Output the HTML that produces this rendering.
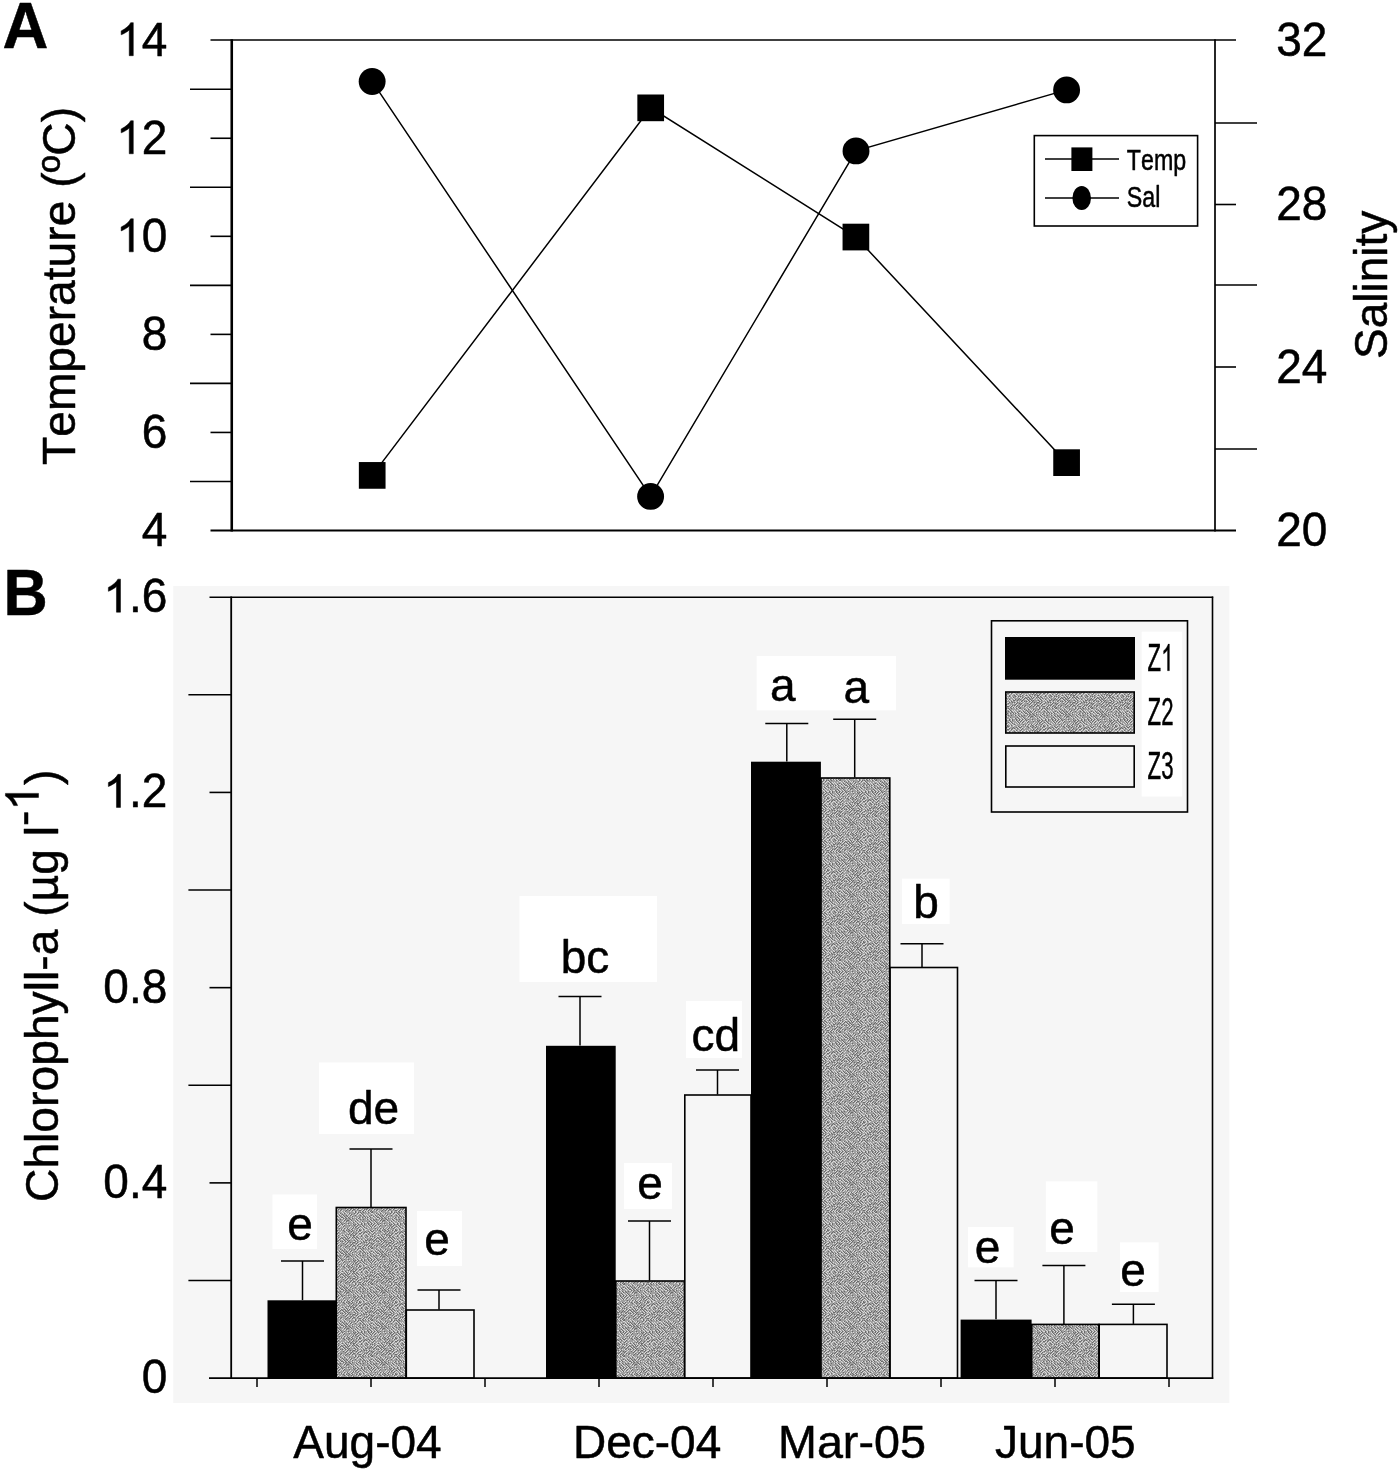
<!DOCTYPE html>
<html><head><meta charset="utf-8"><title>Figure</title>
<style>html,body{margin:0;padding:0;background:#fff;}svg{display:block;filter:grayscale(1);}text{font-family:"Liberation Sans",sans-serif;fill:#000;font-kerning:none;stroke:#000;stroke-width:0.5px;stroke-linejoin:round;}.g1{fill:#000;stroke:#000;stroke-width:22;stroke-linejoin:round;}</style>
</head><body>
<svg width="1400" height="1473" viewBox="0 0 1400 1473">
<defs><pattern id="dz" width="36" height="36" patternUnits="userSpaceOnUse">
<rect width="36" height="36" fill="#a0a0a0"/>
<path fill="#dadada" d="M3 0h1v1h-1zM7 0h1v1h-1zM12 0h1v1h-1zM15 0h1v1h-1zM20 0h1v1h-1zM23 0h1v1h-1zM25 0h1v1h-1zM28 0h1v1h-1zM33 0h1v1h-1zM1 1h1v1h-1zM8 1h1v1h-1zM11 1h1v1h-1zM14 1h1v1h-1zM17 1h1v1h-1zM19 1h1v1h-1zM32 1h1v1h-1zM2 2h1v1h-1zM5 2h1v1h-1zM9 2h1v1h-1zM13 2h1v1h-1zM16 2h1v1h-1zM18 2h1v1h-1zM26 2h1v1h-1zM34 2h1v1h-1zM0 3h1v1h-1zM3 3h1v1h-1zM7 3h1v1h-1zM10 3h1v1h-1zM12 3h1v1h-1zM15 3h1v1h-1zM20 3h1v1h-1zM25 3h1v1h-1zM28 3h1v1h-1zM30 3h1v1h-1zM33 3h1v1h-1zM1 4h1v1h-1zM4 4h1v1h-1zM8 4h1v1h-1zM19 4h1v1h-1zM22 4h1v1h-1zM24 4h1v1h-1zM27 4h1v1h-1zM35 4h1v1h-1zM2 5h1v1h-1zM5 5h1v1h-1zM6 5h1v1h-1zM13 5h1v1h-1zM16 5h1v1h-1zM18 5h1v1h-1zM21 5h1v1h-1zM26 5h1v1h-1zM29 5h1v1h-1zM34 5h1v1h-1zM2 6h1v1h-1zM5 6h1v1h-1zM9 6h1v1h-1zM12 6h1v1h-1zM21 6h1v1h-1zM27 6h1v1h-1zM31 6h1v1h-1zM34 6h1v1h-1zM1 7h1v1h-1zM10 7h1v1h-1zM14 7h1v1h-1zM17 7h1v1h-1zM22 7h1v1h-1zM33 7h1v1h-1zM0 8h1v1h-1zM8 8h1v1h-1zM11 8h1v1h-1zM13 8h1v1h-1zM16 8h1v1h-1zM23 8h1v1h-1zM28 8h1v1h-1zM35 8h1v1h-1zM2 9h1v1h-1zM5 9h1v1h-1zM6 9h1v1h-1zM12 9h1v1h-1zM21 9h1v1h-1zM24 9h1v1h-1zM27 9h1v1h-1zM34 9h1v1h-1zM1 10h1v1h-1zM4 10h1v1h-1zM7 10h1v1h-1zM10 10h1v1h-1zM14 10h1v1h-1zM17 10h1v1h-1zM19 10h1v1h-1zM30 10h1v1h-1zM33 10h1v1h-1zM0 11h1v1h-1zM3 11h1v1h-1zM8 11h1v1h-1zM13 11h1v1h-1zM16 11h1v1h-1zM20 11h1v1h-1zM23 11h1v1h-1zM25 11h1v1h-1zM32 11h1v1h-1zM35 11h1v1h-1zM3 12h1v1h-1zM9 12h1v1h-1zM17 12h1v1h-1zM18 12h1v1h-1zM21 12h1v1h-1zM25 12h1v1h-1zM28 12h1v1h-1zM31 12h1v1h-1zM34 12h1v1h-1zM1 13h1v1h-1zM4 13h1v1h-1zM8 13h1v1h-1zM11 13h1v1h-1zM13 13h1v1h-1zM16 13h1v1h-1zM22 13h1v1h-1zM24 13h1v1h-1zM27 13h1v1h-1zM35 13h1v1h-1zM5 14h1v1h-1zM12 14h1v1h-1zM15 14h1v1h-1zM20 14h1v1h-1zM26 14h1v1h-1zM30 14h1v1h-1zM33 14h1v1h-1zM0 15h1v1h-1zM3 15h1v1h-1zM6 15h1v1h-1zM14 15h1v1h-1zM17 15h1v1h-1zM18 15h1v1h-1zM25 15h1v1h-1zM28 15h1v1h-1zM31 15h1v1h-1zM34 15h1v1h-1zM1 16h1v1h-1zM4 16h1v1h-1zM19 16h1v1h-1zM22 16h1v1h-1zM32 16h1v1h-1zM35 16h1v1h-1zM2 17h1v1h-1zM7 17h1v1h-1zM10 17h1v1h-1zM12 17h1v1h-1zM15 17h1v1h-1zM20 17h1v1h-1zM23 17h1v1h-1zM29 17h1v1h-1zM30 17h1v1h-1zM0 18h1v1h-1zM8 18h1v1h-1zM13 18h1v1h-1zM16 18h1v1h-1zM19 18h1v1h-1zM22 18h1v1h-1zM32 18h1v1h-1zM35 18h1v1h-1zM5 19h1v1h-1zM7 19h1v1h-1zM15 19h1v1h-1zM21 19h1v1h-1zM24 19h1v1h-1zM27 19h1v1h-1zM34 19h1v1h-1zM1 20h1v1h-1zM9 20h1v1h-1zM14 20h1v1h-1zM23 20h1v1h-1zM30 20h1v1h-1zM33 20h1v1h-1zM0 21h1v1h-1zM3 21h1v1h-1zM8 21h1v1h-1zM13 21h1v1h-1zM22 21h1v1h-1zM25 21h1v1h-1zM28 21h1v1h-1zM32 21h1v1h-1zM35 21h1v1h-1zM2 22h1v1h-1zM5 22h1v1h-1zM7 22h1v1h-1zM12 22h1v1h-1zM15 22h1v1h-1zM18 22h1v1h-1zM27 22h1v1h-1zM1 23h1v1h-1zM4 23h1v1h-1zM6 23h1v1h-1zM9 23h1v1h-1zM17 23h1v1h-1zM20 23h1v1h-1zM26 23h1v1h-1zM29 23h1v1h-1zM30 23h1v1h-1zM33 23h1v1h-1zM7 24h1v1h-1zM10 24h1v1h-1zM18 24h1v1h-1zM21 24h1v1h-1zM30 24h1v1h-1zM33 24h1v1h-1zM0 25h1v1h-1zM11 25h1v1h-1zM12 25h1v1h-1zM15 25h1v1h-1zM19 25h1v1h-1zM22 25h1v1h-1zM24 25h1v1h-1zM32 25h1v1h-1zM35 25h1v1h-1zM1 26h1v1h-1zM4 26h1v1h-1zM6 26h1v1h-1zM9 26h1v1h-1zM13 26h1v1h-1zM16 26h1v1h-1zM23 26h1v1h-1zM26 26h1v1h-1zM31 26h1v1h-1zM34 26h1v1h-1zM2 27h1v1h-1zM5 27h1v1h-1zM7 27h1v1h-1zM14 27h1v1h-1zM18 27h1v1h-1zM25 27h1v1h-1zM28 27h1v1h-1zM33 27h1v1h-1zM8 28h1v1h-1zM11 28h1v1h-1zM12 28h1v1h-1zM15 28h1v1h-1zM19 28h1v1h-1zM24 28h1v1h-1zM27 28h1v1h-1zM1 29h1v1h-1zM4 29h1v1h-1zM6 29h1v1h-1zM9 29h1v1h-1zM13 29h1v1h-1zM16 29h1v1h-1zM20 29h1v1h-1zM23 29h1v1h-1zM29 29h1v1h-1zM31 29h1v1h-1zM34 29h1v1h-1zM1 30h1v1h-1zM8 30h1v1h-1zM14 30h1v1h-1zM17 30h1v1h-1zM18 30h1v1h-1zM27 30h1v1h-1zM33 30h1v1h-1zM6 31h1v1h-1zM9 31h1v1h-1zM12 31h1v1h-1zM20 31h1v1h-1zM31 31h1v1h-1zM34 31h1v1h-1zM10 32h1v1h-1zM19 32h1v1h-1zM26 32h1v1h-1zM32 32h1v1h-1zM35 32h1v1h-1zM1 33h1v1h-1zM11 33h1v1h-1zM14 33h1v1h-1zM18 33h1v1h-1zM21 33h1v1h-1zM27 33h1v1h-1zM30 33h1v1h-1zM33 33h1v1h-1zM2 34h1v1h-1zM5 34h1v1h-1zM6 34h1v1h-1zM9 34h1v1h-1zM12 34h1v1h-1zM15 34h1v1h-1zM20 34h1v1h-1zM23 34h1v1h-1zM28 34h1v1h-1zM31 34h1v1h-1zM34 34h1v1h-1zM0 35h1v1h-1zM3 35h1v1h-1zM10 35h1v1h-1zM13 35h1v1h-1zM16 35h1v1h-1zM32 35h1v1h-1zM35 35h1v1h-1z"/>
<path fill="#6a6a6a" d="M1 0h1v1h-1zM4 0h1v1h-1zM8 0h1v1h-1zM11 0h1v1h-1zM13 0h1v1h-1zM18 0h1v1h-1zM29 0h1v1h-1zM31 0h1v1h-1zM34 0h1v1h-1zM2 1h1v1h-1zM9 1h1v1h-1zM12 1h1v1h-1zM15 1h1v1h-1zM20 1h1v1h-1zM25 1h1v1h-1zM30 1h1v1h-1zM33 1h1v1h-1zM0 2h1v1h-1zM3 2h1v1h-1zM10 2h1v1h-1zM14 2h1v1h-1zM19 2h1v1h-1zM32 2h1v1h-1zM4 3h1v1h-1zM11 3h1v1h-1zM29 3h1v1h-1zM31 3h1v1h-1zM34 3h1v1h-1zM6 4h1v1h-1zM15 4h1v1h-1zM20 4h1v1h-1zM23 4h1v1h-1zM28 4h1v1h-1zM33 4h1v1h-1zM3 5h1v1h-1zM17 5h1v1h-1zM24 5h1v1h-1zM27 5h1v1h-1zM35 5h1v1h-1zM0 6h1v1h-1zM10 6h1v1h-1zM13 6h1v1h-1zM19 6h1v1h-1zM22 6h1v1h-1zM25 6h1v1h-1zM28 6h1v1h-1zM32 6h1v1h-1zM35 6h1v1h-1zM5 7h1v1h-1zM8 7h1v1h-1zM11 7h1v1h-1zM12 7h1v1h-1zM20 7h1v1h-1zM24 7h1v1h-1zM27 7h1v1h-1zM34 7h1v1h-1zM1 8h1v1h-1zM4 8h1v1h-1zM6 8h1v1h-1zM9 8h1v1h-1zM14 8h1v1h-1zM29 8h1v1h-1zM0 9h1v1h-1zM3 9h1v1h-1zM13 9h1v1h-1zM25 9h1v1h-1zM28 9h1v1h-1zM32 9h1v1h-1zM35 9h1v1h-1zM8 10h1v1h-1zM12 10h1v1h-1zM24 10h1v1h-1zM27 10h1v1h-1zM31 10h1v1h-1zM1 11h1v1h-1zM6 11h1v1h-1zM14 11h1v1h-1zM18 11h1v1h-1zM21 11h1v1h-1zM26 11h1v1h-1zM29 11h1v1h-1zM30 11h1v1h-1zM1 12h1v1h-1zM7 12h1v1h-1zM10 12h1v1h-1zM12 12h1v1h-1zM22 12h1v1h-1zM29 12h1v1h-1zM32 12h1v1h-1zM5 13h1v1h-1zM14 13h1v1h-1zM17 13h1v1h-1zM20 13h1v1h-1zM23 13h1v1h-1zM25 13h1v1h-1zM28 13h1v1h-1zM30 13h1v1h-1zM33 13h1v1h-1zM11 14h1v1h-1zM16 14h1v1h-1zM18 14h1v1h-1zM21 14h1v1h-1zM24 14h1v1h-1zM31 14h1v1h-1zM34 14h1v1h-1zM1 15h1v1h-1zM7 15h1v1h-1zM10 15h1v1h-1zM12 15h1v1h-1zM15 15h1v1h-1zM19 15h1v1h-1zM22 15h1v1h-1zM32 15h1v1h-1zM5 16h1v1h-1zM6 16h1v1h-1zM9 16h1v1h-1zM14 16h1v1h-1zM20 16h1v1h-1zM23 16h1v1h-1zM25 16h1v1h-1zM30 16h1v1h-1zM33 16h1v1h-1zM3 17h1v1h-1zM13 17h1v1h-1zM16 17h1v1h-1zM18 17h1v1h-1zM21 17h1v1h-1zM24 17h1v1h-1zM31 17h1v1h-1zM1 18h1v1h-1zM4 18h1v1h-1zM6 18h1v1h-1zM9 18h1v1h-1zM23 18h1v1h-1zM26 18h1v1h-1zM29 18h1v1h-1zM30 18h1v1h-1zM33 18h1v1h-1zM0 19h1v1h-1zM8 19h1v1h-1zM11 19h1v1h-1zM13 19h1v1h-1zM19 19h1v1h-1zM22 19h1v1h-1zM28 19h1v1h-1zM32 19h1v1h-1zM7 20h1v1h-1zM12 20h1v1h-1zM21 20h1v1h-1zM27 20h1v1h-1zM34 20h1v1h-1zM4 21h1v1h-1zM6 21h1v1h-1zM9 21h1v1h-1zM14 21h1v1h-1zM17 21h1v1h-1zM23 21h1v1h-1zM26 21h1v1h-1zM29 21h1v1h-1zM30 21h1v1h-1zM33 21h1v1h-1zM0 22h1v1h-1zM3 22h1v1h-1zM8 22h1v1h-1zM11 22h1v1h-1zM16 22h1v1h-1zM22 22h1v1h-1zM25 22h1v1h-1zM28 22h1v1h-1zM35 22h1v1h-1zM2 23h1v1h-1zM5 23h1v1h-1zM10 23h1v1h-1zM12 23h1v1h-1zM21 23h1v1h-1zM31 23h1v1h-1zM0 24h1v1h-1zM3 24h1v1h-1zM8 24h1v1h-1zM11 24h1v1h-1zM12 24h1v1h-1zM31 24h1v1h-1zM34 24h1v1h-1zM1 25h1v1h-1zM16 25h1v1h-1zM20 25h1v1h-1zM25 25h1v1h-1zM30 25h1v1h-1zM33 25h1v1h-1zM2 26h1v1h-1zM18 26h1v1h-1zM27 26h1v1h-1zM0 27h1v1h-1zM3 27h1v1h-1zM11 27h1v1h-1zM15 27h1v1h-1zM19 27h1v1h-1zM22 27h1v1h-1zM26 27h1v1h-1zM31 27h1v1h-1zM4 28h1v1h-1zM9 28h1v1h-1zM13 28h1v1h-1zM16 28h1v1h-1zM20 28h1v1h-1zM23 28h1v1h-1zM28 28h1v1h-1zM2 29h1v1h-1zM5 29h1v1h-1zM7 29h1v1h-1zM10 29h1v1h-1zM17 29h1v1h-1zM18 29h1v1h-1zM21 29h1v1h-1zM24 29h1v1h-1zM35 29h1v1h-1zM19 30h1v1h-1zM22 30h1v1h-1zM25 30h1v1h-1zM28 30h1v1h-1zM34 30h1v1h-1zM0 31h1v1h-1zM3 31h1v1h-1zM7 31h1v1h-1zM10 31h1v1h-1zM13 31h1v1h-1zM16 31h1v1h-1zM21 31h1v1h-1zM26 31h1v1h-1zM32 31h1v1h-1zM11 32h1v1h-1zM14 32h1v1h-1zM20 32h1v1h-1zM23 32h1v1h-1zM24 32h1v1h-1zM27 32h1v1h-1zM33 32h1v1h-1zM2 33h1v1h-1zM9 33h1v1h-1zM15 33h1v1h-1zM22 33h1v1h-1zM31 33h1v1h-1zM7 34h1v1h-1zM10 34h1v1h-1zM16 34h1v1h-1zM29 34h1v1h-1zM1 35h1v1h-1zM4 35h1v1h-1zM8 35h1v1h-1zM11 35h1v1h-1zM14 35h1v1h-1zM17 35h1v1h-1zM20 35h1v1h-1zM24 35h1v1h-1zM33 35h1v1h-1z"/>
</pattern>
<path id="one" d="M763 0H583V1147Q518 1085 412.500 1023Q307 961 223 930V1104Q374 1175 487 1276Q600 1377 647 1472H763Z"/>
</defs>
<rect width="1400" height="1473" fill="#fff"/>
<text transform="translate(2.4,47.6) scale(0.985,1.0)" font-size="64.5" text-anchor="start" font-weight="bold">A</text>
<line x1="210.5" y1="40" x2="1236" y2="40" stroke="#000" stroke-width="1.6"/>
<line x1="210.5" y1="530.6" x2="1236" y2="530.6" stroke="#000" stroke-width="2.0"/>
<line x1="231.75" y1="39.2" x2="231.75" y2="531.6" stroke="#000" stroke-width="2.6"/>
<line x1="1215" y1="39.2" x2="1215" y2="531.6" stroke="#000" stroke-width="1.7"/>
<g transform="translate(167.3,55.7) scale(1.0,1.04)">
<use href="#one" class="g1" transform="translate(-51.15,0) scale(0.022461000000000002,-0.021597)"/>
<text x="-25.58" y="0" font-size="46">4</text>
</g>
<line x1="190" y1="89.23" x2="232" y2="89.23" stroke="#000" stroke-width="1.6"/>
<line x1="210.5" y1="138.26" x2="232" y2="138.26" stroke="#000" stroke-width="1.6"/>
<g transform="translate(167.3,153.76) scale(1.0,1.04)">
<use href="#one" class="g1" transform="translate(-51.15,0) scale(0.022461000000000002,-0.021597)"/>
<text x="-25.58" y="0" font-size="46">2</text>
</g>
<line x1="190" y1="187.29" x2="232" y2="187.29" stroke="#000" stroke-width="1.6"/>
<line x1="210.5" y1="236.32" x2="232" y2="236.32" stroke="#000" stroke-width="1.6"/>
<g transform="translate(167.3,251.82) scale(1.0,1.04)">
<use href="#one" class="g1" transform="translate(-51.15,0) scale(0.022461000000000002,-0.021597)"/>
<text x="-25.58" y="0" font-size="46">0</text>
</g>
<line x1="190" y1="285.35" x2="232" y2="285.35" stroke="#000" stroke-width="1.6"/>
<line x1="210.5" y1="334.38" x2="232" y2="334.38" stroke="#000" stroke-width="1.6"/>
<g transform="translate(167.3,349.88) scale(1.0,1.04)">
<text x="-25.58" y="0" font-size="46">8</text>
</g>
<line x1="190" y1="383.41" x2="232" y2="383.41" stroke="#000" stroke-width="1.6"/>
<line x1="210.5" y1="432.44" x2="232" y2="432.44" stroke="#000" stroke-width="1.6"/>
<g transform="translate(167.3,447.94) scale(1.0,1.04)">
<text x="-25.58" y="0" font-size="46">6</text>
</g>
<line x1="190" y1="481.47" x2="232" y2="481.47" stroke="#000" stroke-width="1.6"/>
<g transform="translate(167.3,546.0) scale(1.0,1.04)">
<text x="-25.58" y="0" font-size="46">4</text>
</g>
<g transform="translate(1276.2,55.7) scale(1.0,1.04)">
<text x="0" y="0" font-size="46">32</text>
</g>
<line x1="1215" y1="123" x2="1257" y2="123" stroke="#000" stroke-width="1.6"/>
<line x1="1215" y1="204.5" x2="1236" y2="204.5" stroke="#000" stroke-width="1.6"/>
<g transform="translate(1276.2,220.2) scale(1.0,1.04)">
<text x="0" y="0" font-size="46">28</text>
</g>
<line x1="1215" y1="285" x2="1257" y2="285" stroke="#000" stroke-width="1.6"/>
<line x1="1215" y1="367" x2="1236" y2="367" stroke="#000" stroke-width="1.6"/>
<g transform="translate(1276.2,382.7) scale(1.0,1.04)">
<text x="0" y="0" font-size="46">24</text>
</g>
<line x1="1215" y1="449" x2="1257" y2="449" stroke="#000" stroke-width="1.6"/>
<g transform="translate(1276.2,545.7) scale(1.0,1.04)">
<text x="0" y="0" font-size="46">20</text>
</g>
<text transform="translate(75,465) rotate(-90) scale(1.004,1.0)" font-size="46">Temperature (ºC)</text>
<text transform="translate(1387,359) rotate(-90) scale(1,1.0)" font-size="46">Salinity</text>
<polyline fill="none" stroke="#000" stroke-width="1.5" points="372.2,475.4 650.7,107.85 855.9,237.05 1066.6,462.65"/>
<polyline fill="none" stroke="#000" stroke-width="1.5" points="372.15,81.45 650.6,496.4 856,150.9 1066.6,89.9"/>
<rect x="358.85" y="462.05" width="26.7" height="26.7" fill="#000"/>
<rect x="637.35" y="94.5" width="26.7" height="26.7" fill="#000"/>
<rect x="842.55" y="223.7" width="26.7" height="26.7" fill="#000"/>
<rect x="1053.25" y="449.3" width="26.7" height="26.7" fill="#000"/>
<circle cx="372.15" cy="81.45" r="13.45" fill="#000"/>
<circle cx="650.6" cy="496.4" r="13.45" fill="#000"/>
<circle cx="856" cy="150.9" r="13.45" fill="#000"/>
<circle cx="1066.6" cy="89.9" r="13.45" fill="#000"/>
<rect x="1034.3" y="135.6" width="163.3" height="90.4" fill="#fff" stroke="#000" stroke-width="1.6"/>
<line x1="1045" y1="159" x2="1119" y2="159" stroke="#000" stroke-width="1.4"/>
<line x1="1045" y1="198" x2="1119" y2="198" stroke="#000" stroke-width="1.4"/>
<rect x="1071.4" y="147.4" width="21" height="23.6" fill="#000"/>
<ellipse cx="1081.7" cy="198" rx="9.3" ry="12" fill="#000"/>
<text transform="translate(1126.8,169.6) scale(0.83,1.04)" font-size="28" text-anchor="start" stroke-width="0.15">Temp</text>
<text transform="translate(1126.8,207) scale(0.83,1.04)" font-size="28" text-anchor="start" stroke-width="0.15">Sal</text>
<text transform="translate(3.6,615.4) scale(0.95,1.0)" font-size="64.5" text-anchor="start" font-weight="bold">B</text>
<rect x="173.3" y="586" width="1056" height="817" fill="#f6f6f6"/>
<rect x="272.5" y="1194.5" width="44.5" height="54.5" fill="#fff"/>
<rect x="319" y="1062.5" width="95" height="71.5" fill="#fff"/>
<rect x="417" y="1211" width="45" height="55" fill="#fff"/>
<rect x="519.5" y="896" width="137.5" height="86" fill="#fff"/>
<rect x="624" y="1163" width="48" height="46" fill="#fff"/>
<rect x="686" y="1001" width="56" height="57" fill="#fff"/>
<rect x="756.6" y="656" width="139.4" height="54.4" fill="#fff"/>
<rect x="902" y="878.7" width="47.7" height="45.3" fill="#fff"/>
<rect x="968" y="1227" width="45.6" height="40.4" fill="#fff"/>
<rect x="1045.8" y="1181.3" width="51.5" height="70.7" fill="#fff"/>
<rect x="1120" y="1242.3" width="38.7" height="49.7" fill="#fff"/>
<rect x="267.5" y="1300.3" width="68.7" height="77.8" fill="#000"/>
<rect x="336.3" y="1207.5" width="69.7" height="170.6" fill="url(#dz)" stroke="#000" stroke-width="1.6"/>
<rect x="406.3" y="1310.0" width="67.7" height="68.1" fill="#f6f6f6" stroke="#000" stroke-width="1.6"/>
<rect x="546" y="1045.8" width="69.7" height="332.3" fill="#000"/>
<rect x="615.8" y="1281.0" width="68.7" height="97.1" fill="url(#dz)" stroke="#000" stroke-width="1.6"/>
<rect x="684.8" y="1095.0" width="66.2" height="283.1" fill="#f6f6f6" stroke="#000" stroke-width="1.6"/>
<rect x="751" y="761.6999999999999" width="69.9" height="616.4" fill="#000"/>
<rect x="821.0" y="778.0" width="68.8" height="600.1" fill="url(#dz)" stroke="#000" stroke-width="1.6"/>
<rect x="890.0999999999999" y="967.5" width="67.4" height="410.6" fill="#f6f6f6" stroke="#000" stroke-width="1.6"/>
<rect x="960.6" y="1319.6" width="71.0" height="58.5" fill="#000"/>
<rect x="1031.7" y="1324.4" width="67.2" height="53.7" fill="url(#dz)" stroke="#000" stroke-width="1.6"/>
<rect x="1099.2" y="1324.4" width="67.8" height="53.7" fill="#f6f6f6" stroke="#000" stroke-width="1.6"/>
<line x1="302.5" y1="1261" x2="302.5" y2="1300" stroke="#000" stroke-width="1.5"/>
<line x1="281.0" y1="1261" x2="324.0" y2="1261" stroke="#000" stroke-width="1.5"/>
<line x1="371" y1="1149" x2="371" y2="1207" stroke="#000" stroke-width="1.5"/>
<line x1="349.5" y1="1149" x2="392.5" y2="1149" stroke="#000" stroke-width="1.5"/>
<line x1="439" y1="1290" x2="439" y2="1309.5" stroke="#000" stroke-width="1.5"/>
<line x1="417.5" y1="1290" x2="460.5" y2="1290" stroke="#000" stroke-width="1.5"/>
<line x1="580" y1="996.5" x2="580" y2="1045.5" stroke="#000" stroke-width="1.5"/>
<line x1="558.5" y1="996.5" x2="601.5" y2="996.5" stroke="#000" stroke-width="1.5"/>
<line x1="649.5" y1="1221" x2="649.5" y2="1280.5" stroke="#000" stroke-width="1.5"/>
<line x1="628.0" y1="1221" x2="671.0" y2="1221" stroke="#000" stroke-width="1.5"/>
<line x1="717.5" y1="1070" x2="717.5" y2="1094.5" stroke="#000" stroke-width="1.5"/>
<line x1="696.0" y1="1070" x2="739.0" y2="1070" stroke="#000" stroke-width="1.5"/>
<line x1="786.8" y1="723.6" x2="786.8" y2="761.4" stroke="#000" stroke-width="1.5"/>
<line x1="765.3" y1="723.6" x2="808.3" y2="723.6" stroke="#000" stroke-width="1.5"/>
<line x1="854.7" y1="719.3" x2="854.7" y2="777.5" stroke="#000" stroke-width="1.5"/>
<line x1="833.2" y1="719.3" x2="876.2" y2="719.3" stroke="#000" stroke-width="1.5"/>
<line x1="922" y1="943.7" x2="922" y2="967" stroke="#000" stroke-width="1.5"/>
<line x1="900.5" y1="943.7" x2="943.5" y2="943.7" stroke="#000" stroke-width="1.5"/>
<line x1="996" y1="1280.5" x2="996" y2="1319.3" stroke="#000" stroke-width="1.5"/>
<line x1="974.5" y1="1280.5" x2="1017.5" y2="1280.5" stroke="#000" stroke-width="1.5"/>
<line x1="1063.9" y1="1265.4" x2="1063.9" y2="1323.9" stroke="#000" stroke-width="1.5"/>
<line x1="1042.4" y1="1265.4" x2="1085.4" y2="1265.4" stroke="#000" stroke-width="1.5"/>
<line x1="1133.4" y1="1304.2" x2="1133.4" y2="1323.9" stroke="#000" stroke-width="1.5"/>
<line x1="1111.9" y1="1304.2" x2="1154.9" y2="1304.2" stroke="#000" stroke-width="1.5"/>
<line x1="209.5" y1="597.2" x2="1213.2" y2="597.2" stroke="#000" stroke-width="1.6"/>
<line x1="209" y1="1378.1" x2="1213.2" y2="1378.1" stroke="#000" stroke-width="1.9"/>
<line x1="231.2" y1="596.4" x2="231.2" y2="1379.0" stroke="#000" stroke-width="1.8"/>
<line x1="1212.5" y1="596.4" x2="1212.5" y2="1379.0" stroke="#000" stroke-width="1.6"/>
<g transform="translate(167.3,612.2) scale(1.0,1.04)">
<use href="#one" class="g1" transform="translate(-63.94,0) scale(0.022461000000000002,-0.021597)"/>
<text x="-38.36" y="0" font-size="46">.6</text>
</g>
<line x1="188.4" y1="694.81" x2="231" y2="694.81" stroke="#000" stroke-width="1.6"/>
<line x1="209.5" y1="792.42" x2="231" y2="792.42" stroke="#000" stroke-width="1.6"/>
<g transform="translate(167.3,807.42) scale(1.0,1.04)">
<use href="#one" class="g1" transform="translate(-63.94,0) scale(0.022461000000000002,-0.021597)"/>
<text x="-38.36" y="0" font-size="46">.2</text>
</g>
<line x1="188.4" y1="890.04" x2="231" y2="890.04" stroke="#000" stroke-width="1.6"/>
<line x1="209.5" y1="987.65" x2="231" y2="987.65" stroke="#000" stroke-width="1.6"/>
<g transform="translate(167.3,1002.65) scale(1.0,1.04)">
<text x="-63.94" y="0" font-size="46">0.8</text>
</g>
<line x1="188.4" y1="1085.26" x2="231" y2="1085.26" stroke="#000" stroke-width="1.6"/>
<line x1="209.5" y1="1182.88" x2="231" y2="1182.88" stroke="#000" stroke-width="1.6"/>
<g transform="translate(167.3,1197.88) scale(1.0,1.04)">
<text x="-63.94" y="0" font-size="46">0.4</text>
</g>
<line x1="188.4" y1="1280.49" x2="231" y2="1280.49" stroke="#000" stroke-width="1.6"/>
<g transform="translate(167.3,1393.1) scale(1.0,1.04)">
<text x="-25.58" y="0" font-size="46">0</text>
</g>
<line x1="257" y1="1378.1" x2="257" y2="1387" stroke="#000" stroke-width="1.5"/>
<line x1="371" y1="1378.1" x2="371" y2="1387" stroke="#000" stroke-width="1.5"/>
<line x1="485" y1="1378.1" x2="485" y2="1387" stroke="#000" stroke-width="1.5"/>
<line x1="599" y1="1378.1" x2="599" y2="1387" stroke="#000" stroke-width="1.5"/>
<line x1="713" y1="1378.1" x2="713" y2="1387" stroke="#000" stroke-width="1.5"/>
<line x1="827" y1="1378.1" x2="827" y2="1387" stroke="#000" stroke-width="1.5"/>
<line x1="941" y1="1378.1" x2="941" y2="1387" stroke="#000" stroke-width="1.5"/>
<line x1="1055" y1="1378.1" x2="1055" y2="1387" stroke="#000" stroke-width="1.5"/>
<line x1="1169" y1="1378.1" x2="1169" y2="1387" stroke="#000" stroke-width="1.5"/>
<text transform="translate(293.3,1458) scale(1.0,1.0)" font-size="46" text-anchor="start" >Aug-04</text>
<text transform="translate(573.0,1458) scale(1.0,1.0)" font-size="46" text-anchor="start" >Dec-04</text>
<text transform="translate(778,1458) scale(1.015,1.0)" font-size="46" text-anchor="start" >Mar-05</text>
<text transform="translate(995,1458) scale(1.0,1.0)" font-size="46" text-anchor="start" >Jun-05</text>
<g transform="translate(58,1202) rotate(-90) scale(1.005,1.0)">
<text x="0" y="0" font-size="46">Chlorophyll-a (µg l</text>
<text x="374.12" y="-19.5" font-size="46">-</text>
<use href="#one" class="g1" transform="translate(389.44,-19.5) scale(0.022461000000000002,-0.022461000000000002)"/>
<text x="415.01" y="0" font-size="46">)</text>
</g>
<text transform="translate(300,1239.5) scale(1.0,1.0)" font-size="46" text-anchor="middle" >e</text>
<text transform="translate(373.5,1123.5) scale(1.0,1.0)" font-size="46" text-anchor="middle" >de</text>
<text transform="translate(437,1255) scale(1.0,1.0)" font-size="46" text-anchor="middle" >e</text>
<text transform="translate(585,972.5) scale(1.0,1.0)" font-size="46" text-anchor="middle" >bc</text>
<text transform="translate(650,1198.5) scale(1.0,1.0)" font-size="46" text-anchor="middle" >e</text>
<text transform="translate(715.7,1050.5) scale(1.0,1.0)" font-size="46" text-anchor="middle" >cd</text>
<text transform="translate(782.7,701.3) scale(1.0,1.0)" font-size="46" text-anchor="middle" >a</text>
<text transform="translate(856.2,703) scale(1.0,1.0)" font-size="46" text-anchor="middle" >a</text>
<text transform="translate(926,918) scale(1.0,1.0)" font-size="46" text-anchor="middle" >b</text>
<text transform="translate(987.5,1263) scale(1.0,1.0)" font-size="46" text-anchor="middle" >e</text>
<text transform="translate(1062,1243.5) scale(1.0,1.0)" font-size="46" text-anchor="middle" >e</text>
<text transform="translate(1133,1286) scale(1.0,1.0)" font-size="46" text-anchor="middle" >e</text>
<rect x="991.5" y="620.8" width="196" height="191.2" fill="#f6f6f6" stroke="#000" stroke-width="1.6"/>
<rect x="1141.7" y="631.7" width="40.5" height="164.8" fill="#fff"/>
<rect x="1005" y="637" width="130" height="42.7" fill="#000"/>
<rect x="1005.8" y="692" width="128.4" height="41" fill="url(#dz)" stroke="#000" stroke-width="1.6"/>
<rect x="1005.8" y="746" width="128.4" height="41" fill="#f6f6f6" stroke="#000" stroke-width="1.6"/>
<g transform="translate(1147.6,670.7) scale(0.6,1.04)">
<text x="0" y="0" font-size="37">Z</text>
<use href="#one" class="g1" transform="translate(22.61,0) scale(0.018066,-0.017372)"/>
</g>
<g transform="translate(1147.6,725.0) scale(0.6,1.04)">
<text x="0" y="0" font-size="37">Z2</text>
</g>
<g transform="translate(1147.6,779.3) scale(0.6,1.04)">
<text x="0" y="0" font-size="37">Z3</text>
</g>
</svg></body></html>
